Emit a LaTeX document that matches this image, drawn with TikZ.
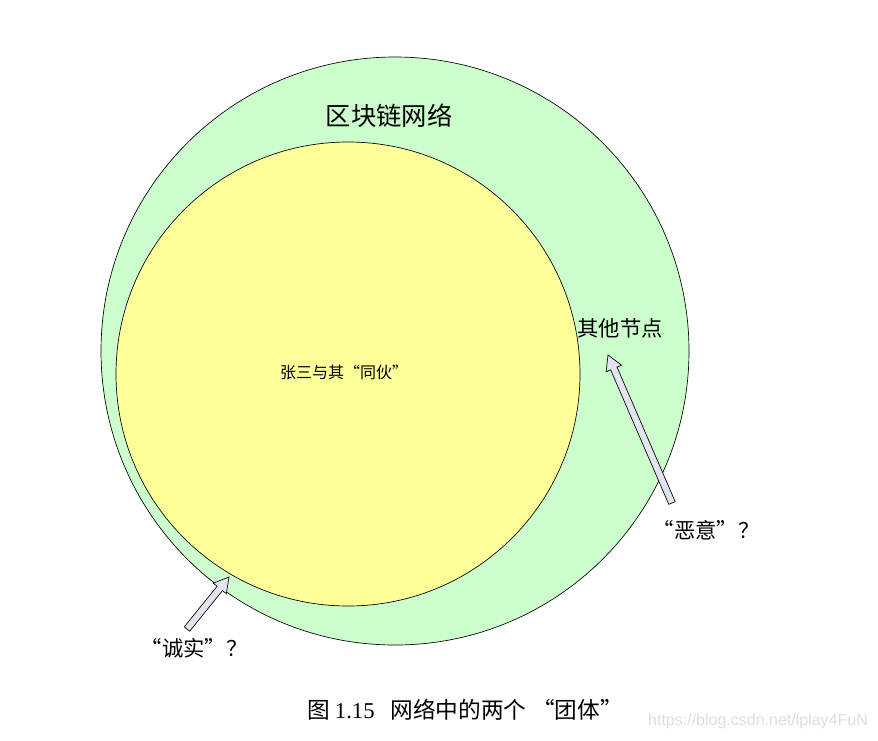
\documentclass[tikz,border=0pt]{standalone}
\usepackage{fontspec}
\setmainfont{Liberation Serif}
\newfontfamily\cjk{Noto Sans CJK SC}
\newfontfamily\wmfont{Liberation Sans}
\usetikzlibrary{calc}

\definecolor{netgreen}{HTML}{CCFFCC}
\definecolor{gangyellow}{HTML}{FFFF99}
\definecolor{arrowgray}{HTML}{E4E4F0}

\tikzset{
  ring/.style={circle, draw=black, line width=0.5pt, inner sep=0pt},
  label/.style={font=\cjk\fontsize{#1}{#1}\selectfont, inner sep=0pt},
  fatarrow/.style={draw=black, line width=0.5pt, fill=arrowgray, line join=miter},
}

% hollow block arrow: tail, tip
\newcommand\blockarrow[2]{%
  \coordinate (hb) at ($(#2)!11pt!(#1)$);
  \draw[fatarrow] ($(#1)!2.6pt!90:(#2)$) -- ($(hb)!2.6pt!90:(#2)$) -- ($(hb)!6.3pt!90:(#2)$)
    -- (#2) -- ($(hb)!6.3pt!-90:(#2)$) -- ($(hb)!2.6pt!-90:(#2)$) -- ($(#1)!2.6pt!-90:(#2)$) -- cycle;}

\begin{document}
\begin{tikzpicture}[x=0.75pt, y=-0.75pt]
  \useasboundingbox (0,0) rectangle (878,740);
  \fill[white] (0,0) rectangle (878,740);

  \node[ring, fill=netgreen, minimum size=441pt] (net) at (395,351) {};
  \node[ring, fill=gangyellow, minimum size=348pt] (gang) at (348,374) {};

  \node[label=19] (title) at (389,116) {区块链网络};
  \node[label=16] (others) at (620,328) {其他节点};
  \node[label=12] (gangtext) at (344,372) {张三与其“同伙”};
  \node[label=16] (bad) at (706,530) {“恶意”？};
  \node[label=16] (good) at (194,648) {“诚实”？};

  \coordinate (badtail) at (672,503);
  \coordinate (badtip) at (608,355);
  \coordinate (goodtail) at (187,629);
  \coordinate (goodtip) at (229,577);
  \blockarrow{badtail}{badtip}
  \blockarrow{goodtail}{goodtip}

  \node[label=17] (caption) at (465,710) {图 {\rmfamily 1.15}\hspace{0.7em}网络中的两个\hspace{0.25em}“团体”};
  \node[font=\wmfont\fontsize{12}{12}\selectfont, text=black!13, inner sep=0pt] (mark) at (758,721) {https://blog.csdn.net/lplay4FuN};
\end{tikzpicture}
\end{document}
